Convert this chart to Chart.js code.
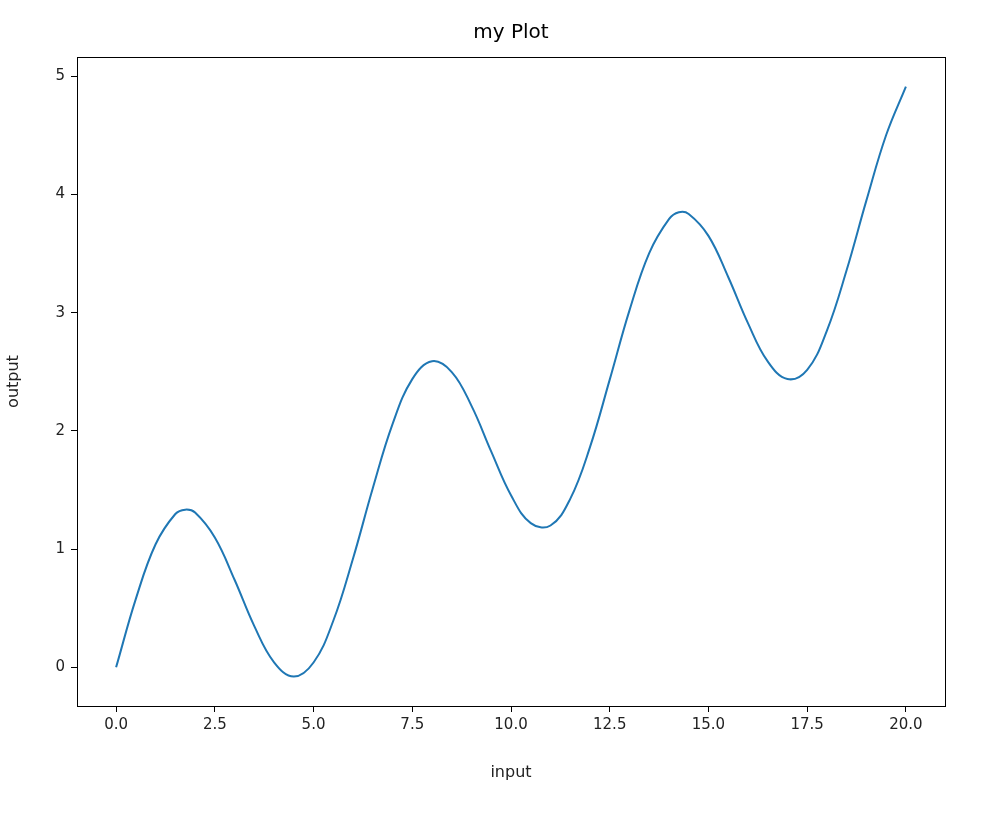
<!DOCTYPE html>
<html><head><script src="https://cdn.jsdelivr.net/npm/chart.js@4"></script>
<style>body{margin:0;background:#fff}#w{width:998px;height:814px}</style></head>
<body><div id="w"><canvas id="c"></canvas></div>
<script>
const xValues=[0,0.5,1,1.5,1.75,2,2.5,3,3.5,4,4.5,5,5.5,6,6.5,7,7.5,8,8.5,9,9.5,10,10.5,11,11.5,12,12.5,13,13.5,14,14.25,14.5,15,15.5,16,16.5,17,17.5,18,18.5,19,19.5,20];
const yValues=[0,0.579,1.041,1.297,1.334,1.309,1.098,0.741,0.349,0.043,-0.078,0.041,0.394,0.921,1.515,2.057,2.438,2.589,2.498,2.212,1.825,1.456,1.220,1.200,1.425,1.863,2.434,3.020,3.504,3.791,3.849,3.835,3.650,3.302,2.912,2.588,2.439,2.517,2.849,3.361,3.950,4.503,4.913];
const xTicks=[0,2.5,5,7.5,10,12.5,15,17.5,20];
const yTicks=[0,1,2,3,4,5];
const F='DejaVu Sans';
const box={id:'box',afterDraw(c){const a=c.chartArea,x=c.ctx;x.save();x.strokeStyle='#000';x.lineWidth=1;x.strokeRect(a.left+0.5,a.top+0.5,a.right-a.left,a.bottom-a.top);
x.fillStyle='#000';x.font='20px '+F;x.textAlign='center';x.textBaseline='middle';x.fillText('my Plot',(a.left+a.right)/2,33);x.restore();}};
new Chart(document.getElementById('c'),{type:'line',
data:{datasets:[{data:xValues.map((v,i)=>({x:v,y:yValues[i]})),borderColor:'#1f77b4',borderWidth:2,pointRadius:0,tension:0.4,fill:false}]},
options:{responsive:true,maintainAspectRatio:false,animation:false,
layout:{padding:{top:57,right:53,left:0,bottom:28}},
plugins:{legend:{display:false},tooltip:{enabled:false}},
scales:{
x:{type:'linear',min:-0.99,max:20.99,afterBuildTicks:s=>{s.ticks=xTicks.map(v=>({value:v}))},afterFit:s=>{s.height=80},
grid:{drawOnChartArea:false,tickLength:6,color:'#000'},border:{display:false},
ticks:{color:'#222',font:{family:F,size:15},callback:v=>v.toFixed(1),maxRotation:0,padding:4},
title:{display:true,text:'input',color:'#222',font:{family:F,size:16},padding:{top:4}}},
y:{type:'linear',min:-0.327,max:5.163,afterBuildTicks:s=>{s.ticks=yTicks.map(v=>({value:v}))},afterFit:s=>{s.width=77},
grid:{drawOnChartArea:false,tickLength:6,color:'#000'},border:{display:false},
ticks:{color:'#222',font:{family:F,size:15},callback:v=>String(v),padding:6},
title:{display:true,text:'output',color:'#222',font:{family:F,size:16},padding:{bottom:6}}}}},
plugins:[box]});
</script></body></html>
